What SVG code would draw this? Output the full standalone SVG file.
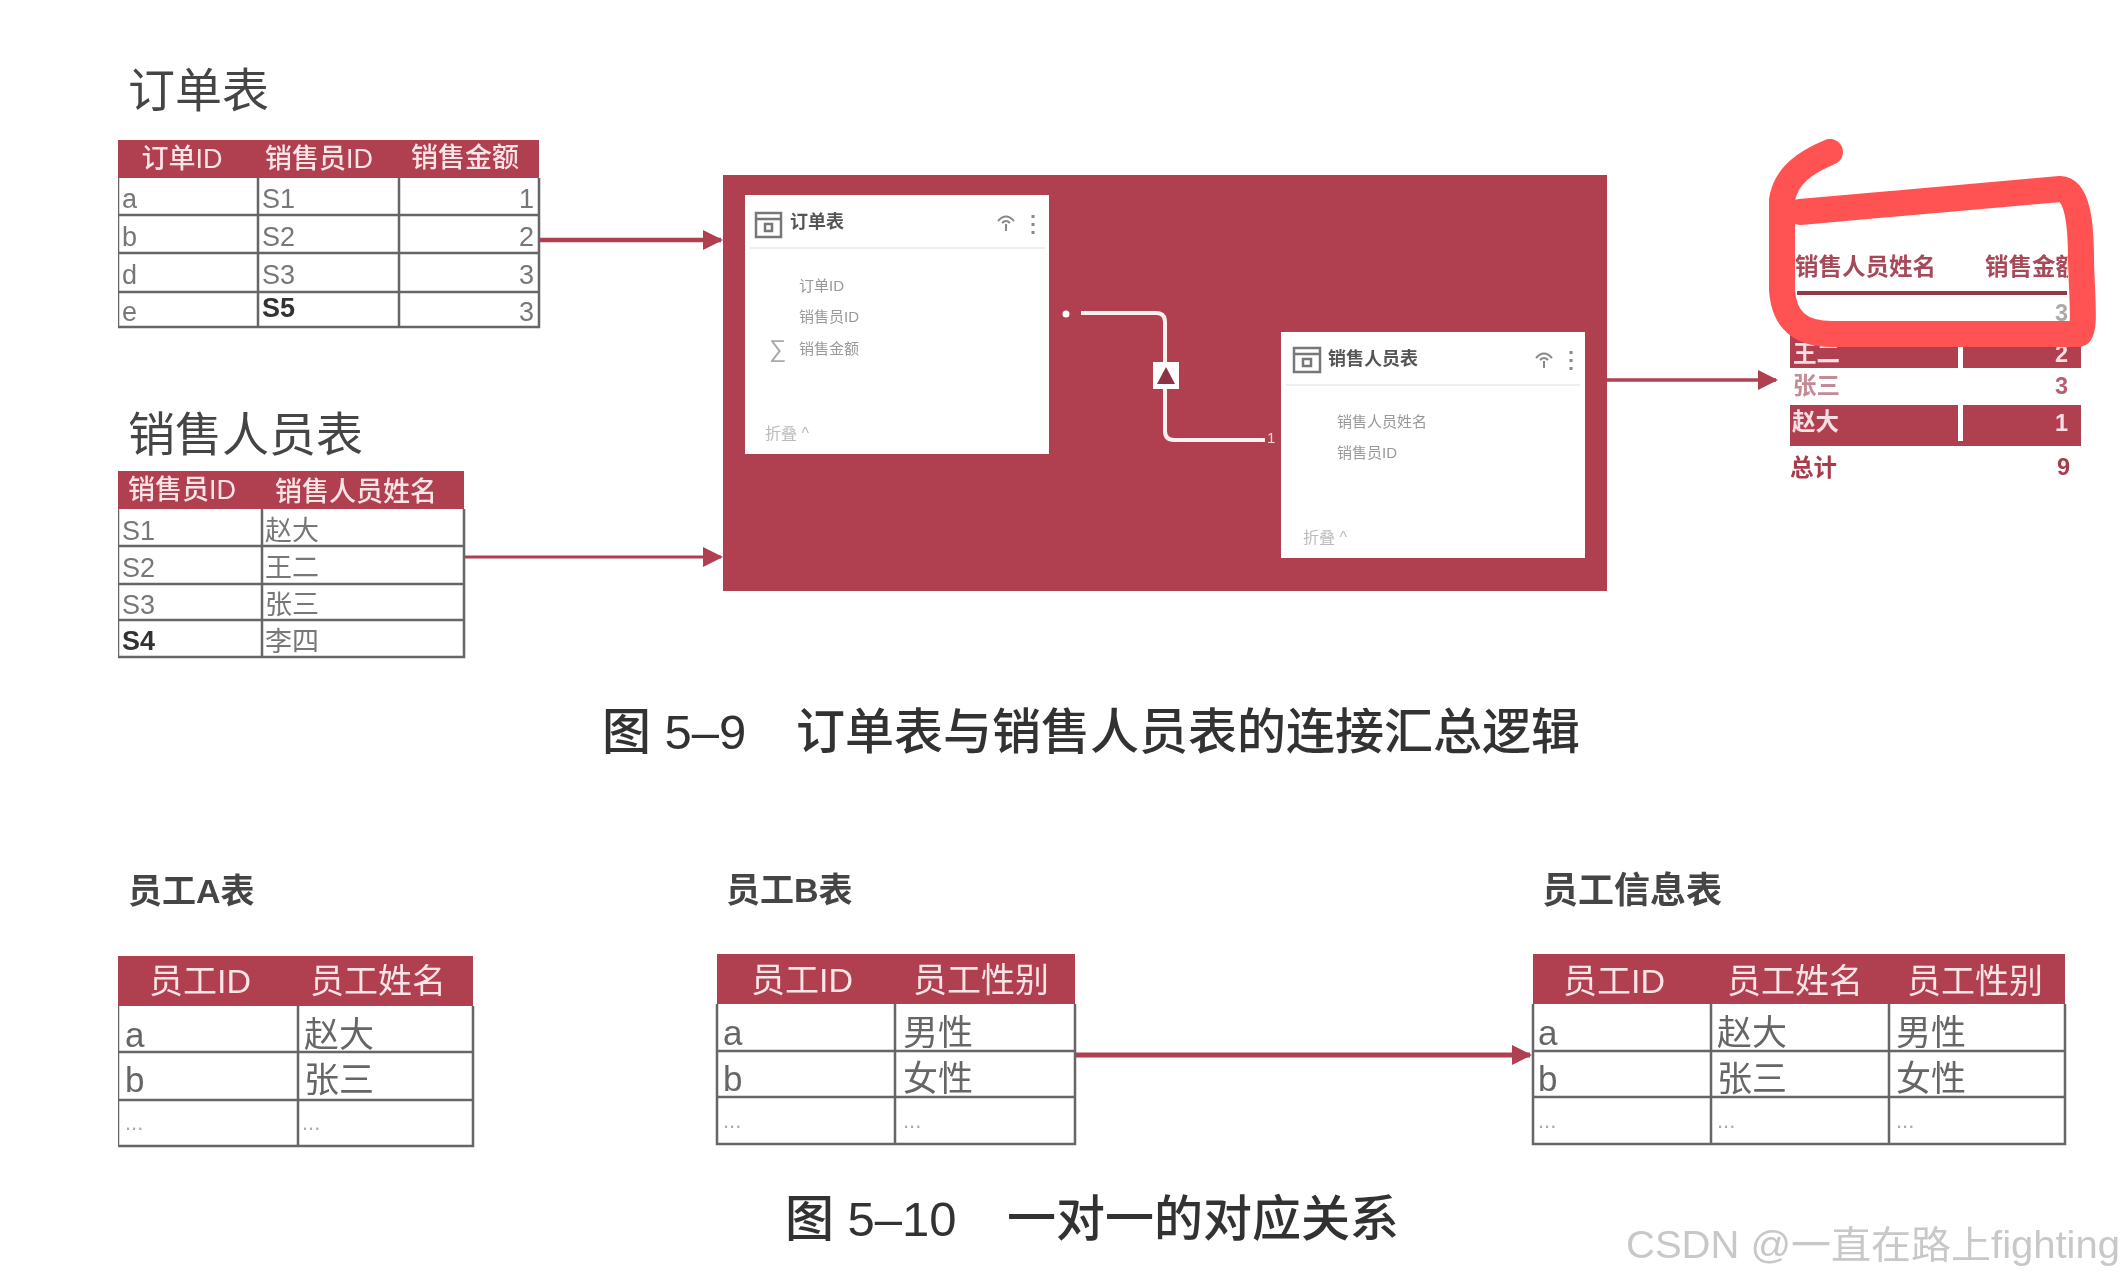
<svg xmlns="http://www.w3.org/2000/svg" width="2126" height="1280" viewBox="0 0 2126 1280">
<style>
text{font-family:"Liberation Sans","Noto Sans CJK SC",sans-serif;dominant-baseline:central}
.ttl{font-size:47px;fill:#444}
.sub{font-size:34px;font-weight:700;fill:#444}
.cap{font-size:49px;font-weight:500;fill:#333}
.hd{fill:#b03f50}
.hdt{font-size:27px;fill:#f9e4e6;font-weight:500;text-anchor:middle}
.hdl{font-size:34px;fill:#f9e4e6;font-weight:400;text-anchor:middle}
.cell{font-size:27px;fill:#777}
.cellb{font-size:27px;fill:#333;font-weight:700}
.cl{font-size:35px;fill:#666}
.dots{font-size:22px;fill:#aaa}
.grid{fill:none;stroke:#666;stroke-width:2.5}
.conn{fill:none;stroke:#b03f50}
.card{fill:#fff}
.sep{stroke:#eee;stroke-width:2}
.ct{font-size:18px;font-weight:700;fill:#555}
.fld{font-size:15px;fill:#999}
.fold{font-size:16px;fill:#bbb}
.ic{fill:none;stroke:#777;stroke-width:2.5}
.rep{font-size:23.5px;font-weight:700}
.rw{fill:#f6dfe2}
</style>
<defs>
<marker id="ah" viewBox="0 0 10 10" refX="9" refY="5" markerWidth="20" markerHeight="24" markerUnits="userSpaceOnUse" orient="auto"><path d="M0 0L10 5L0 10Z" fill="#b03f50"/></marker>
<filter id="soft" x="0" y="0" width="100%" height="100%"><feGaussianBlur stdDeviation="0.7"/></filter>
</defs>
<rect width="2126" height="1280" fill="#fff"/>
<g filter="url(#soft)">
<g id="connectors">
<path class="conn" stroke-width="4.5" d="M540 240H721" marker-end="url(#ah)"/>
<path class="conn" stroke-width="3" d="M464 557H721" marker-end="url(#ah)"/>
<path class="conn" stroke-width="3.5" d="M1607 380H1776" marker-end="url(#ah)"/>
<path class="conn" stroke-width="5" d="M1075 1055H1530" marker-end="url(#ah)"/>
</g>
<g id="title-orders"><text class="ttl" x="128" y="90">订单表</text></g>
<g id="table-orders">
<rect class="hd" x="118" y="140" width="421" height="38"/>
<text class="hdt" x="182" y="159">订单ID</text><text class="hdt" x="319" y="159">销售员ID</text><text class="hdt" x="465" y="158">销售金额</text>
<path class="grid" d="M118 178V327H539V178M118 215H539M118 253H539M118 292H539M258 178V327M399 178V327"/>
<text class="cell" x="122" y="199">a</text><text class="cell" x="262" y="199">S1</text><text class="cell" x="534" y="199" text-anchor="end">1</text>
<text class="cell" x="122" y="237">b</text><text class="cell" x="262" y="237">S2</text><text class="cell" x="534" y="237" text-anchor="end">2</text>
<text class="cell" x="122" y="275">d</text><text class="cell" x="262" y="275">S3</text><text class="cell" x="534" y="275" text-anchor="end">3</text>
<text class="cell" x="122" y="312">e</text><text class="cellb" x="262" y="308">S5</text><text class="cell" x="534" y="312" text-anchor="end">3</text>
</g>
<g id="title-sales"><text class="ttl" x="128" y="434">销售人员表</text></g>
<g id="table-sales">
<rect class="hd" x="118" y="471" width="346" height="38"/>
<text class="hdt" x="182" y="490">销售员ID</text><text class="hdt" x="356" y="492">销售人员姓名</text>
<path class="grid" d="M118 509V657H464V509M118 546H464M118 584H464M118 620H464M262 509V657"/>
<text class="cell" x="122" y="531">S1</text><text class="cell" x="265" y="531">赵大</text>
<text class="cell" x="122" y="568">S2</text><text class="cell" x="265" y="568">王二</text>
<text class="cell" x="122" y="605">S3</text><text class="cell" x="265" y="605">张三</text>
<text class="cellb" x="122" y="641">S4</text><text class="cell" x="265" y="642">李四</text>
</g>
<g id="model-panel">
<rect x="723" y="175" width="884" height="416" fill="#b03f50"/>
<path d="M1081 313H1156Q1165 313 1165 322V431Q1165 440 1174 440H1265" fill="none" stroke="#fbeff0" stroke-width="4"/>
<circle cx="1066" cy="314" r="3.5" fill="#fff"/>
<text x="1267" y="437" font-size="15" fill="#f4d8dc">1</text>
<rect x="1153" y="362" width="26" height="27" fill="#fff"/>
<path d="M1166 367L1175 384H1157Z" fill="#8a3444"/>
</g>
<g id="card-orders">
<rect class="card" x="745" y="195" width="304" height="259"/>
<path class="sep" d="M750 248H1045"/>
<rect class="ic" x="756" y="213" width="25" height="24"/><path class="ic" d="M756 219H781M765 224H772V231H765Z"/>
<text class="ct" x="790" y="222">订单表</text>
<path d="M998 221Q1006 212 1014 221M1002 223Q1006 219 1010 223M1006 224V231" fill="none" stroke="#888" stroke-width="2"/>
<path d="M1033 215v3M1033 223v3M1033 231v3" stroke="#888" stroke-width="3"/>
<text class="fld" x="799" y="285">订单ID</text><text class="fld" x="799" y="316">销售员ID</text>
<text x="769" y="348" font-size="24" fill="#aaa">∑</text><text class="fld" x="799" y="348">销售金额</text>
<text class="fold" x="765" y="433">折叠 ^</text>
</g>
<g id="card-salespeople">
<rect class="card" x="1281" y="332" width="304" height="226"/>
<path class="sep" d="M1286 385H1580"/>
<rect class="ic" x="1294" y="348" width="26" height="24"/><path class="ic" d="M1294 354H1320M1303 359H1311V366H1303Z"/>
<text class="ct" x="1328" y="359">销售人员表</text>
<path d="M1536 358Q1544 349 1552 358M1540 360Q1544 356 1548 360M1544 361V368" fill="none" stroke="#888" stroke-width="2"/>
<path d="M1571 351v3M1571 359v3M1571 367v3" stroke="#888" stroke-width="3"/>
<text class="fld" x="1337" y="421">销售人员姓名</text><text class="fld" x="1337" y="452">销售员ID</text>
<text class="fold" x="1303" y="537">折叠 ^</text>
</g>
<g id="report">
<text class="rep" x="1795" y="267" fill="#a84a5a">销售人员姓名</text>
<svg x="1980" y="250" width="88" height="40"><text class="rep" x="5" y="17" fill="#a84a5a">销售金额</text></svg>
<path d="M1797 293H2067" stroke="#93374a" stroke-width="4"/>
<text x="2068" y="313" class="rep" text-anchor="end" fill="#aaa" font-weight="400">3</text>
<rect class="hd" x="1790" y="330" width="291" height="38"/>
<rect x="1958" y="345" width="5" height="23" fill="#fff"/>
<text class="rw rep" x="1793" y="354" font-weight="500">王二</text>
<text class="rw rep" x="2068" y="354" text-anchor="end">2</text>
<text x="1793" y="386" class="rep" fill="#c58a95" font-weight="400">张三</text>
<text x="2068" y="386" class="rep" text-anchor="end" fill="#b5606f">3</text>
<rect class="hd" x="1790" y="405" width="291" height="41"/>
<rect x="1958" y="405" width="5" height="36" fill="#fff"/>
<text class="rw rep" x="1792" y="422" font-weight="500">赵大</text>
<text class="rw rep" x="2068" y="423" text-anchor="end">1</text>
<text x="1790" y="468" class="rep" fill="#a83a4c">总计</text>
<text x="2070" y="467" class="rep" text-anchor="end" fill="#a83a4c">9</text>
</g>
<g id="red-mark">
<path d="M1830 152C1806 162 1786 175 1782 200V290C1784 320 1800 334 1832 334H2078C2086 334 2082 300 2081 260C2081 225 2078 190 2060 189L1800 212" fill="none" stroke="#ff5252" stroke-width="26" stroke-linecap="round" stroke-linejoin="round"/>
</g>
<g id="caption-5-9"><text class="cap" y="732"><tspan x="602">图 5–9</tspan><tspan x="796">订单表与销售人员表的连接汇总逻辑</tspan></text></g>
<g id="title-a"><text class="sub" x="128" y="891">员工A表</text></g>
<g id="table-a">
<rect class="hd" x="118" y="956" width="355" height="50"/>
<text class="hdl" x="200" y="981">员工ID</text><text class="hdl" x="378" y="981">员工姓名</text>
<path class="grid" d="M118 1006V1146H473V1006M118 1052H473M118 1100H473M298 1006V1146"/>
<text class="cl" x="125" y="1034">a</text><text class="cl" x="304" y="1034">赵大</text>
<text class="cl" x="125" y="1079">b</text><text class="cl" x="304" y="1079">张三</text>
<text class="dots" x="125" y="1122">...</text><text class="dots" x="302" y="1122">...</text>
</g>
<g id="title-b"><text class="sub" x="726" y="890">员工B表</text></g>
<g id="table-b">
<rect class="hd" x="717" y="954" width="358" height="50"/>
<text class="hdl" x="802" y="980">员工ID</text><text class="hdl" x="981" y="980">员工性别</text>
<path class="grid" d="M717 1004V1144H1075V1004M717 1051H1075M717 1097H1075M895 1004V1144"/>
<text class="cl" x="723" y="1032">a</text><text class="cl" x="903" y="1032">男性</text>
<text class="cl" x="723" y="1078">b</text><text class="cl" x="903" y="1078">女性</text>
<text class="dots" x="723" y="1120">...</text><text class="dots" x="903" y="1120">...</text>
</g>
<g id="title-c"><text class="sub" x="1542" y="890" style="font-size:36px">员工信息表</text></g>
<g id="table-c">
<rect class="hd" x="1533" y="954" width="532" height="50"/>
<text class="hdl" x="1614" y="981">员工ID</text><text class="hdl" x="1795" y="981">员工姓名</text><text class="hdl" x="1975" y="981">员工性别</text>
<path class="grid" d="M1533 1004V1144H2065V1004M1533 1051H2065M1533 1097H2065M1711 1004V1144M1889 1004V1144"/>
<text class="cl" x="1538" y="1032">a</text><text class="cl" x="1717" y="1032">赵大</text><text class="cl" x="1896" y="1032">男性</text>
<text class="cl" x="1538" y="1078">b</text><text class="cl" x="1717" y="1078">张三</text><text class="cl" x="1896" y="1078">女性</text>
<text class="dots" x="1538" y="1120">...</text><text class="dots" x="1717" y="1120">...</text><text class="dots" x="1896" y="1120">...</text>
</g>
<g id="caption-5-10"><text class="cap" y="1219"><tspan x="785">图 5–10</tspan><tspan x="1007">一对一的对应关系</tspan></text></g>
<g id="watermark"><text x="1626" y="1245" font-size="38" fill="#c8c8c8" textLength="494" lengthAdjust="spacingAndGlyphs">CSDN @一直在路上fighting</text></g>
</g>
</svg>
